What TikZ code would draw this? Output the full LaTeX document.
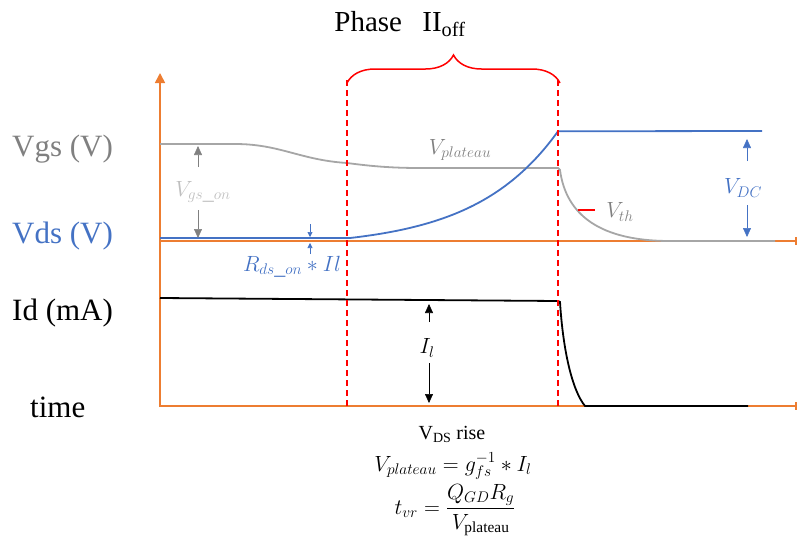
\documentclass[tikz,border=0pt]{standalone}
\usepackage{fix-cm}
\usepackage{fontspec}
\setmainfont{Liberation Serif}
\usetikzlibrary{arrows.meta,decorations.pathreplacing,positioning}
\definecolor{axisorange}{RGB}{237,125,49}
\definecolor{curvegray}{RGB}{166,166,166}
\definecolor{textgray}{RGB}{128,128,128}
\definecolor{lightgray}{RGB}{191,191,191}
\definecolor{vdsblue}{RGB}{68,114,196}
\tikzset{
  axis/.style={axisorange,line width=1.6pt},
  curve/.style={line width=1.8pt},
  phase/.style={red,line width=1.2pt,dash pattern=on 6pt off 4pt},
  marker/.style={line width=0.6pt,-{Triangle[width=8pt,length=9pt]}},
  smallmarker/.style={line width=0.6pt,-{Triangle[width=5pt,length=5pt]}},
  axislabel/.style={anchor=base west,inner sep=0pt,font=\fontsize{31}{35}\selectfont},
  mathlabel/.style={font=\fontsize{22}{26}\selectfont},
}
\begin{document}
\begin{tikzpicture}[x=1pt,y=-1pt]
        \useasboundingbox (0,0) rectangle (798,544);
        \def\xa{347} \def\xb{558}

        % axes
        \draw[axis,-{Triangle[width=10pt,length=10pt]}] (160,407) -- (160,73);
        \draw[axis,-{Bar[width=8pt]}] (160,241) -- (797,241);
        \draw[axis,-{Bar[width=8pt]}] (160,406) -- (797,406);

        \node (vgsname) at (12,156) [axislabel,text=textgray] {Vgs (V)};
        \node (vdsname) at (12,243) [axislabel,text=vdsblue] {Vds (V)};
        \node (idname) at (12,320) [axislabel] {Id (mA)};
        \node (timename) at (30,417) [axislabel] {time};

        % waveforms
        \draw[curve,curvegray] (160,144) -- (235,144)
        .. controls (280,144) and (300,160) .. (347,163)
        .. controls (370,166) and (390,168) .. (420,168)
        -- (\xb,168) -- (560,170)
        .. controls (566,215) and (600,241) .. (670,241)
        -- (775,241);

        \draw[curve,vdsblue,variable=\x] (160,238) -- (350,238)
        -- plot[domain=350:\xb,samples=60] (\x,{238-9.6*(exp(0.012*(\x-350))-1)})
        -- (762,131);

        \draw[curve,black] (160,298) -- (\xb,301) -- (560,302)
        .. controls (563,350) and (572,390) .. (585,406)
        -- (748,406);

        % phase window
        \draw[phase] (\xa,80) -- (\xa,408);
        \draw[phase] (\xb,80) -- (\xb,408);
        \draw[red,line width=1.5pt,decorate,decoration={brace,amplitude=28pt}] (\xa,83) -- (560,83);
        \node (title) at (400,24) [font=\fontsize{29}{33}\selectfont] {Phase\hspace{0.7em}II\textsubscript{off}};

        % V_gs_on
        \node (vgson) at (203,192) [mathlabel,text=lightgray] {$V_{gs\_on}$};
        \coordinate (gsA) at (198,167); \coordinate (gsB) at (198,146);
        \coordinate (gsC) at (198,210); \coordinate (gsD) at (198,238);
        \draw[marker,textgray] (gsA) -- (gsB);
        \draw[marker,textgray] (gsC) -- (gsD);

        % R_ds_on * Il
        \node (rdson) at (292,267) [mathlabel,text=vdsblue] {$R_{ds\_on} * Il$};
        \coordinate (dsA) at (310,224); \coordinate (dsB) at (310,237);
        \coordinate (dsC) at (310,254); \coordinate (dsD) at (310,243);
        \draw[smallmarker,vdsblue] (dsA) -- (dsB);
        \draw[smallmarker,vdsblue] (dsC) -- (dsD);

        \node (vplat) at (460,150) [mathlabel,text=textgray] {$V_{plateau}$};

        % V_th
        \coordinate (thA) at (578,210); \coordinate (thB) at (595,210);
        \draw[red,line width=1.6pt] (thA) -- (thB);
        \node (vth) at (620,212) [mathlabel,text=textgray] {$V_{th}$};

        % V_DC
        \node (vdc) at (743,188) [mathlabel,text=vdsblue] {$V_{DC}$};
        \coordinate (dcA) at (747,161); \coordinate (dcB) at (747,139);
        \coordinate (dcC) at (747,205); \coordinate (dcD) at (747,237);
        \draw[marker,vdsblue] (dcA) -- (dcB);
        \draw[marker,vdsblue] (dcC) -- (dcD);

        % I_l
        \node (il) at (427,348) [mathlabel] {$I_l$};
        \coordinate (ilA) at (429,322); \coordinate (ilB) at (429,304);
        \coordinate (ilC) at (429,363); \coordinate (ilD) at (429,403);
        \draw[marker] (ilA) -- (ilB);
        \draw[marker] (ilC) -- (ilD);

        % notes
        \node (rise) at (452,434) [font=\fontsize{20}{24}\selectfont] {V\textsubscript{DS} rise};
        \node (gfs) at (453,466) [mathlabel] {$V_{plateau} = g_{fs}^{-1} * I_l$};
        \node (tvr) at (455,510) [mathlabel] {$\displaystyle t_{vr} = \frac{Q_{GD}R_g}{V_{\mathrm{plateau}}}$};
\end{tikzpicture}
\end{document}
